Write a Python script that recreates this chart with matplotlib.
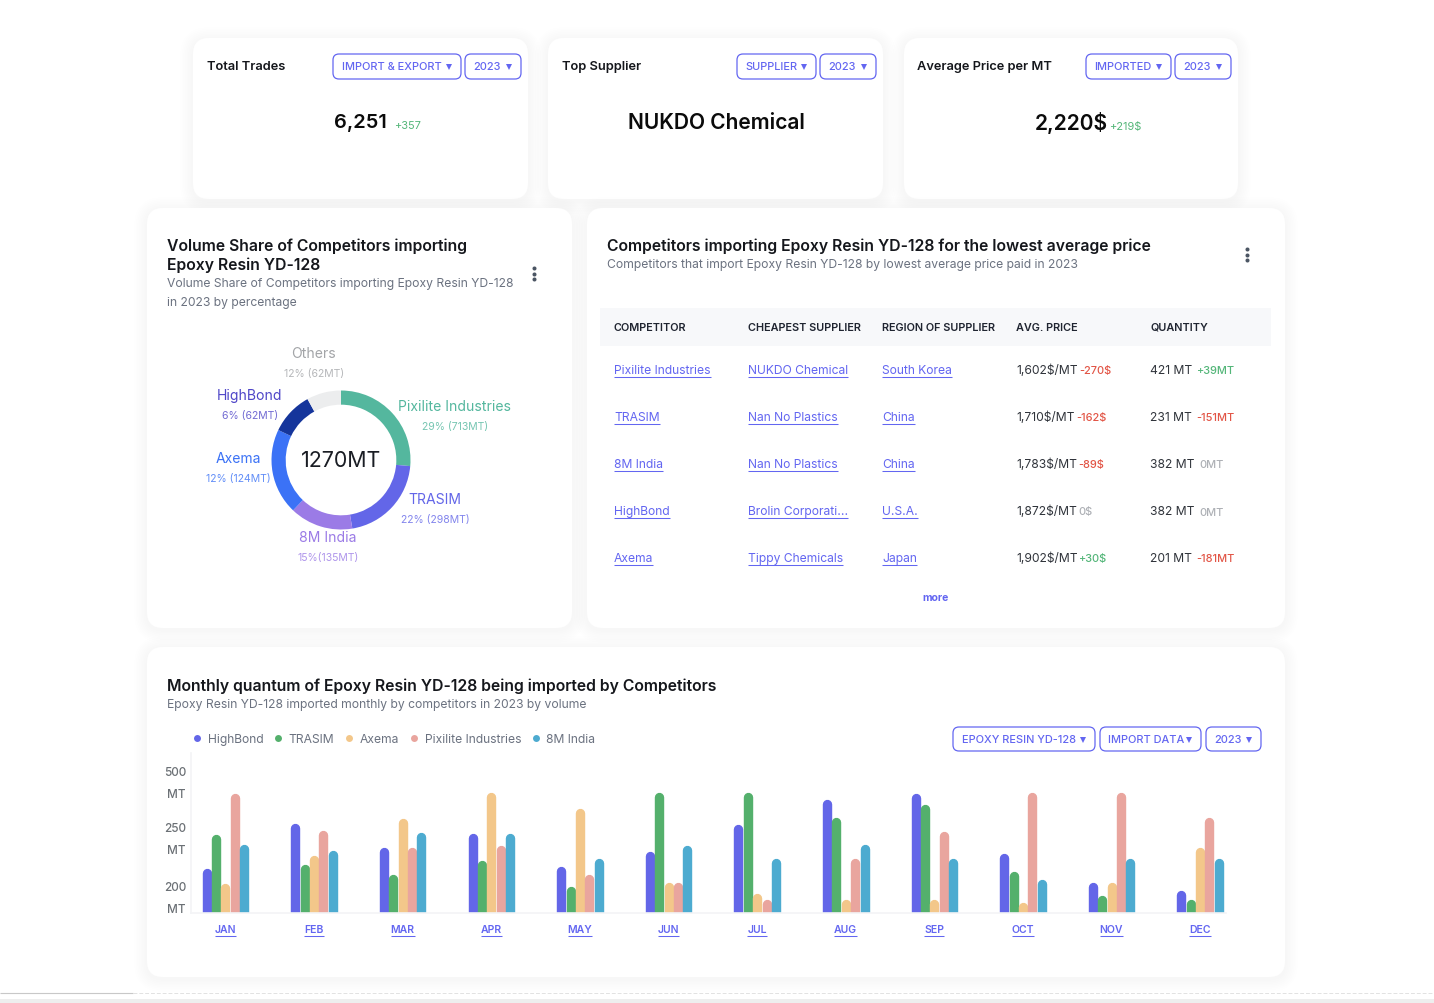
import matplotlib
matplotlib.use("Agg")
import matplotlib.pyplot as plt
import numpy as np
from matplotlib.lines import Line2D
from matplotlib.patches import FancyBboxPatch
from matplotlib.transforms import ScaledTranslation

W, H = 1434, 1004
plt.rcParams['font.family'] = ['Inter', 'DejaVu Sans']

# monthly chart
months = ["JAN", "FEB", "MAR", "APR", "MAY", "JUN", "JUL", "AUG", "SEP", "OCT", "NOV", "DEC"]
highbond = [224, 312, 242, 268, 226, 238, 308, 420, 446, 237, 212, 205]
trasim = [263, 227, 219, 231, 209, 451, 451, 339, 397, 221, 201, 162]
axema = [211, 235, 335, 451, 379, 212, 203, 162, 162, 125, 212, 242]
pixilite = [446, 281, 242, 243, 219, 212, 162, 232, 277, 451, 451, 339]
india = [244, 239, 272, 268, 232, 243, 232, 244, 232, 215, 232, 232]
series_names = ["HighBond", "TRASIM", "Axema", "Pixilite Industries", "8M India"]
series_colors = ["#6366e8", "#54b06c", "#f3c78a", "#e9a59e", "#4dabd0"]
y_ticks = [200, 250, 500]
y_tick_labels = ["200\nMT", "250\nMT", "500\nMT"]

# donut, arcs as they are drawn (they do not follow the printed percentages)
donut_names = ["Pixilite Industries", "TRASIM", "8M India", "Axema", "HighBond", "Others"]
donut_arcs = [26.4, 21.0, 14.7, 20.0, 9.9, 8.0]
donut_notes = ["29% (713MT)", "22% (298MT)", "15%(135MT)", "12% (124MT)", "6% (62MT)", "12% (62MT)"]
donut_colors = ["#54b79e", "#6366e8", "#9b7be6", "#3b72f6", "#15359b", "#ecedee"]
donut_text_colors = ["#54b79e", "#6366e8", "#9b7be6", "#3b72f6", "#4f46c8", "#a3a5a8"]
donut_total = "1270MT"

# table
table_header = ["COMPETITOR", "CHEAPEST SUPPLIER", "REGION OF SUPPLIER", "AVG. PRICE", "QUANTITY"]
competitors = ["Pixilite Industries", "TRASIM", "8M India", "HighBond", "Axema"]
suppliers = ["NUKDO Chemical", "Nan No Plastics", "Nan No Plastics", "Brolin Corporati...", "Tippy Chemicals"]
regions = ["South Korea", "China", "China", "U.S.A.", "Japan"]
prices = ["1,602$/MT", "1,710$/MT", "1,783$/MT", "1,872$/MT", "1,902$/MT"]
price_changes = ["-270$", "-162$", "-89$", "0$", "+30$"]
quantities = ["421 MT", "231 MT", "382 MT", "382 MT", "201 MT"]
quantity_changes = ["+39MT", "-151MT", "0MT", "0MT", "-181MT"]

BLUE = "#6366f1"
DARK = "#15171c"
GREY = "#6b7280"
SHIFT = 1  # everything sits one pixel lower than first measured

fig = plt.figure(figsize=(W / 100, H / 100), dpi=100, facecolor="white")
bg = fig.add_axes([0, 0, 1, 1], zorder=0)
bg.set_xlim(0, W)
bg.set_ylim(H - SHIFT, -SHIFT)
bg.axis("off")

links = []


def txt(x, y, s, px, color=DARK, weight="normal", ha="left", **kw):
    return bg.text(x, y, s, fontsize=px * 0.72, color=color, fontweight=weight,
                   ha=ha, va="center", **kw)


def card(x0, y0, x1, y1):
    # soft shadow made of a few see-through layers
    for k in range(8, 0, -1):
        g = k * 1.6
        bg.add_patch(FancyBboxPatch((x0 - g, y0 - g + 2), x1 - x0 + 2 * g, y1 - y0 + 2 * g,
                                    boxstyle="round,pad=0,rounding_size=%g" % (16 + g),
                                    fc="#444444", ec="none", alpha=0.0045))
    bg.add_patch(FancyBboxPatch((x0, y0), x1 - x0, y1 - y0,
                                boxstyle="round,pad=0,rounding_size=16", fc="white", ec="none"))


def chip(x0, x1, y0, y1, label):
    bg.add_patch(FancyBboxPatch((x0, y0), x1 - x0, y1 - y0, boxstyle="round,pad=0,rounding_size=6",
                                fc="white", ec=BLUE, lw=0.9))
    txt(x0 + 8.5, (y0 + y1) / 2, label, 11, BLUE, "medium")
    bg.plot(x1 - 12, (y0 + y1) / 2 + 0.5, "v", ms=4.3, color=BLUE, mew=0)


def after(first, s, px, color, gap, weight="medium", dy=0.5):
    # small text that follows right after another one
    bb = first.get_window_extent(fig.canvas.get_renderer())
    return txt(bb.x1 + gap, first.get_position()[1] + dy, s, px, color, weight)


def change_color(s):
    if s.startswith("-"):
        return "#e25546"
    if s.startswith("+"):
        return "#54b679"
    return "#adb0b5"


def kebab(x, y):
    bg.plot([x, x, x], [y - 5.5, y, y + 5.5], "o", ms=2.9, color="#4b5563", mew=0)


for box in [(193, 38, 528, 199), (548, 38, 883, 199), (904, 38, 1238, 199),
            (147, 208, 572, 628), (587, 208, 1285, 628), (147, 647, 1285, 977)]:
    card(*box)

# top row
txt(207, 66, "Total Trades", 12.85, weight="semibold")
chip(333, 461, 54, 79, "IMPORT & EXPORT")
chip(465, 521, 54, 79, "2023")
value = txt(334, 122, "6,251", 20, "#0b0b0b", "semibold")
after(value, "+357", 11, "#54b679", 7, "normal", dy=3)

txt(562, 66, "Top Supplier", 12.85, weight="semibold")
chip(737, 816, 54, 79, "SUPPLIER")
chip(820, 876, 54, 79, "2023")
txt(716, 122, "NUKDO Chemical", 21, "#0b0b0b", "semibold", ha="center")

txt(917, 66, "Average Price per MT", 12.85, weight="semibold")
chip(1086, 1171, 54, 79, "IMPORTED")
chip(1175, 1231, 54, 79, "2023")
value = txt(1035, 122, "2,220$", 21, "#0b0b0b", "semibold")
after(value, "+219$", 11, "#54b679", 1, "normal", dy=4)

# donut card
txt(167, 245, "Volume Share of Competitors importing", 15.75, weight="semibold")
txt(167, 264, "Epoxy Resin YD-128", 15.75, weight="semibold")
txt(167, 283, "Volume Share of Competitors importing Epoxy Resin YD-128", 12.15, GREY)
txt(167, 302, "in 2023 by percentage", 12.15, GREY)
kebab(533.5, 273.5)

# axes box a bit larger than the ring so nothing gets cut
cx, cy, r = 341, 460 + SHIFT, 69.5
dax = fig.add_axes([(cx - r * 1.1) / W, 1 - (cy + r * 1.1) / H, 2.2 * r / W, 2.2 * r / H], zorder=1)
dax.pie(donut_arcs, colors=donut_colors, startangle=90, counterclock=False, radius=1,
        wedgeprops={"width": 0.204, "linewidth": 0})
dax.set_xlim(-1.1, 1.1)
dax.set_ylim(-1.1, 1.1)
dax.text(0, 0, donut_total, fontsize=21.4 * 0.72, color="#1a1d24", ha="center", va="center")

label_spots = [(455, 406), (435, 499), (328, 537), (238, 458), (250, 395), (314, 353)]
for (lx, ly), name, note, col in zip(label_spots, donut_names, donut_notes, donut_text_colors):
    txt(lx, ly, name, 14, col, ha="center")
    txt(lx, ly + 20, note, 10.5, col, ha="center", alpha=0.8)

# table card
txt(607, 245, "Competitors importing Epoxy Resin YD-128 for the lowest average price", 15.75, weight="semibold")
txt(607, 264, "Competitors that import Epoxy Resin YD-128 by lowest average price paid in 2023", 12.15, GREY)
kebab(1246.5, 254.5)

bg.fill_between([600, 1271], 308, 346, color="#f7f8fa", lw=0)
col_x = [614, 748, 882, 1016.5, 1150.5]
for x, head in zip(col_x, table_header):
    txt(x, 327, head, 10.9, "#1f2430", "semibold")
for i in range(len(competitors)):
    y = 370 + 47 * i
    for x, s in zip(col_x[:3], (competitors[i], suppliers[i], regions[i])):
        links.append((txt(x, y, s, 12.1, BLUE), y + 7))
    t = txt(col_x[3], y, prices[i], 12.1, "#30343b")
    after(t, price_changes[i], 11, change_color(price_changes[i]), 1)
    t = txt(col_x[4], y, quantities[i], 12.1, "#30343b")
    after(t, quantity_changes[i], 11, change_color(quantity_changes[i]), 4)
txt(935.5, 597, "more", 10.5, BLUE, "bold", ha="center")

# bottom card
txt(167, 685, "Monthly quantum of Epoxy Resin YD-128 being imported by Competitors", 15.75, weight="semibold")
txt(167, 704, "Epoxy Resin YD-128 imported monthly by competitors in 2023 by volume", 12.15, GREY)
chip(953, 1095, 727, 751, "EPOXY RESIN YD-128")
chip(1100, 1201, 727, 751, "IMPORT DATA")
chip(1206, 1261, 727, 751, "2023")

# the axis is not linear, the labels sit at uneven distances
value_nodes = [0, 200, 250, 500, 630]
height_nodes = [0, 16, 75, 131, 160]

left, right, top, base = 191, 1226, 752.5 + SHIFT, 912.5 + SHIFT
ax = fig.add_axes([left / W, 1 - base / H, (right - left) / W, (base - top) / H], zorder=1)
ax.patch.set_visible(False)
step = 88.6
ax.set_xlim((left - 225.5) / step, (right - 225.5) / step)
ax.set_yscale("function", functions=(lambda v: np.interp(v, value_nodes, height_nodes),
                                     lambda h: np.interp(h, height_nodes, value_nodes)))
ax.set_ylim(0, 630)

bar_px = 9.4
cap = bar_px * 0.72 / 2
# shift down by the cap radius so the round end stops at the value, the axes clip the foot
shifted = ax.transData + ScaledTranslation(0, -cap / 72, fig.dpi_scale_trans)
x = np.arange(len(months))
all_series = [highbond, trasim, axema, pixilite, india]
for j, (vals, col) in enumerate(zip(all_series, series_colors)):
    ax.vlines(x + (j - 2) * bar_px / step, 0, vals, colors=col, linewidth=bar_px * 0.72,
              capstyle="round", transform=shifted)

ax.set_xticks(x, months, fontsize=10.5 * 0.72, color=BLUE, fontweight="semibold")
ax.set_yticks(y_ticks, y_tick_labels, fontsize=11.8 * 0.72, color="#6b7075", linespacing=2.15,
              fontweight="medium", ha="right")
ax.minorticks_off()
ax.tick_params(axis="x", length=0, pad=8.5)
ax.tick_params(axis="y", length=0, pad=3.6)
# labels stand a little lower than their tick
for lab in ax.get_yticklabels():
    lab.set_va("center")
    lab.set_transform(lab.get_transform() + ScaledTranslation(0, -1.5 / 100, fig.dpi_scale_trans))
for side in ["top", "right"]:
    ax.spines[side].set_visible(False)
for side in ["left", "bottom"]:
    ax.spines[side].set_color("#f3f4f6")
    ax.spines[side].set_linewidth(1.2)

handles = [Line2D([], [], ls="none", marker="o", ms=5, mew=0, color=c) for c in series_colors]
ax.legend(handles, series_names, ncol=5, loc="center left", bbox_to_anchor=(0, 1 + 13.5 / (base - top)),
          frameon=False, fontsize=12.1 * 0.72, labelcolor=GREY, borderpad=0, borderaxespad=0,
          handlelength=1, handletextpad=0.38, columnspacing=0.72)

# strip at the bottom of the screenshot
bg.hlines(993, 0, 133, color="#c8c8c8", lw=0.8)
bg.hlines(993, 133, W, color="#e2e2e2", lw=0.7, ls=(0, (4, 2)))
bg.fill_between([0, W], 999, H, color="#eeeeee", lw=0)

# underlines need the final text sizes
fig.canvas.draw()
renderer = fig.canvas.get_renderer()
for t, y in links + [(lab, 936) for lab in ax.get_xticklabels()]:
    bb = t.get_window_extent(renderer)
    bg.plot([bb.x0, bb.x1], [y, y], color=BLUE, lw=0.75, solid_capstyle="butt")
bg.set_xlim(0, W)
bg.set_ylim(H - SHIFT, -SHIFT)

fig.savefig("out.png", dpi=100)
